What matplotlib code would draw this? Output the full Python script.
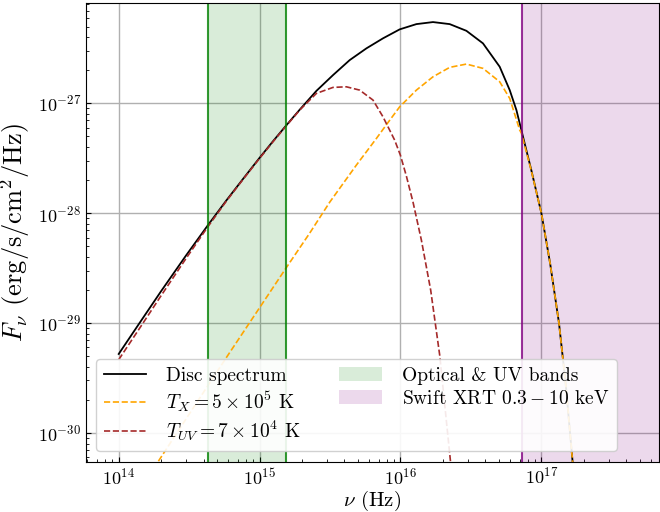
import matplotlib

matplotlib.use("Agg")
import matplotlib.pyplot as plt

# frequencies (Hz) and fluxes (erg/s/cm^2/Hz)
nu_disc = [1.0e14, 1.409e14, 2.0e14, 3.0e14, 4.3e14, 5.81e14, 7.59e14, 1.0e15,
           1.239e15, 1.556e15, 1.926e15, 2.53e15, 3.32e15, 4.36e15, 5.73e15,
           7.51e15, 9.87e15, 1.297e16, 1.701e16, 2.235e16, 2.936e16, 3.85e16,
           5.06e16, 5.96e16, 6.65e16, 7.21e16, 8.48e16, 1.0e17, 1.154e17,
           1.333e17, 1.486e17, 1.668e17, 1.81e17]
f_disc = [5.23e-30, 1.005e-29, 1.952e-29, 4.11e-29, 7.79e-29, 1.308e-28,
          2.035e-28, 3.196e-28, 4.49e-28, 6.37e-28, 8.76e-28, 1.30e-27,
          1.810e-27, 2.479e-27, 3.17e-27, 3.91e-27, 4.72e-27, 5.27e-27,
          5.50e-27, 5.27e-27, 4.58e-27, 3.52e-27, 2.155e-27, 1.321e-27,
          8.69e-28, 5.71e-28, 2.47e-28, 1.0e-28, 3.48e-29, 1.0e-29, 2.835e-30,
          5.35e-31, 1.977e-31]

nu_x = [1.0e14, 1.955e14, 3.76e14, 5.90e14, 1.0e15, 1.556e15, 2.268e15, 3.145e15,
        4.86e15, 6.75e15, 8.15e15, 9.87e15, 1.297e16, 1.701e16, 2.235e16,
        2.936e16, 3.85e16, 5.06e16, 5.96e16, 7.02e16, 7.21e16, 8.48e16, 1.0e17,
        1.154e17, 1.333e17, 1.486e17, 1.668e17, 1.81e17]
f_x = [1.54e-31, 5.76e-31, 2.078e-30, 5.0e-30, 1.38e-29, 3.23e-29, 6.59e-29,
       1.26e-28, 2.74e-28, 4.80e-28, 6.69e-28, 9.31e-28, 1.321e-27, 1.747e-27,
       2.128e-27, 2.28e-27, 2.084e-27, 1.573e-27, 1.110e-27, 5.71e-28, 5.36e-28,
       2.44e-28, 1.0e-28, 3.48e-29, 1.0e-29, 2.835e-30, 5.35e-31, 1.977e-31]

nu_uv = [1.0e14, 1.409e14, 2.0e14, 3.0e14, 4.3e14, 5.81e14, 7.59e14, 1.0e15,
         1.239e15, 1.556e15, 1.926e15, 2.53e15, 3.32e15, 4.13e15, 5.13e15,
         6.38e15, 7.51e15, 9.09e15, 9.98e15, 1.101e16, 1.227e16, 1.407e16,
         1.638e16, 1.898e16, 2.272e16, 2.465e16]
f_uv = [4.64e-30, 8.99e-30, 1.777e-29, 3.86e-29, 7.55e-29, 1.289e-28, 2.014e-28,
        3.16e-28, 4.44e-28, 6.30e-28, 8.69e-28, 1.233e-27, 1.398e-27, 1.416e-27,
        1.321e-27, 1.072e-27, 7.55e-28, 4.63e-28, 3.38e-28, 2.177e-28,
        1.262e-28, 5.69e-29, 1.993e-29, 5.10e-30, 5.24e-31, 2.20e-31]

optical_uv = (4.28e14, 1.55e15)
xrt = (7.25e16, 2.42e18)

plt.rcParams["font.family"] = "serif"
plt.rcParams["font.serif"] = ["cmr10", "DejaVu Serif"]
plt.rcParams["mathtext.fontset"] = "cm"
plt.rcParams["axes.formatter.use_mathtext"] = True
plt.rcParams["axes.unicode_minus"] = False


def main() -> None:
    fig, ax = plt.subplots(figsize=(6.6, 5.12), dpi=100)
    fig.subplots_adjust(left=0.130, right=0.998, top=0.995, bottom=0.098)

    ax.plot(nu_disc, f_disc, color="black", lw=1.3, label="Disc spectrum")
    ax.plot(nu_x, f_x, color="orange", lw=1.2, ls="--",
            label=r"$T_X = 5 \times 10^5$ K")
    ax.plot(nu_uv, f_uv, color="brown", lw=1.2, ls="--",
            label=r"$T_{UV} = 7 \times 10^4$ K")

    ax.axvspan(*optical_uv, color="green", alpha=0.15, lw=0,
               label="Optical & UV bands")
    for v in optical_uv:
        ax.axvline(v, color="green", lw=1.5, alpha=0.8)
    ax.axvspan(*xrt, color="purple", alpha=0.15, lw=0,
               label=r"Swift XRT $0.3-10$ keV")
    ax.axvline(xrt[0], color="purple", lw=1.5, alpha=0.8)

    ax.set_xscale("log")
    ax.set_yscale("log")
    ax.set_xlim(5.84e13, 6.8e17)
    ax.set_ylim(5.45e-31, 8.28e-27)
    ax.grid(True, which="major", color="#b0b0b0", lw=1.0)
    ax.set_axisbelow(True)
    ax.tick_params(which="both", direction="in", labelsize=13)

    ax.set_xlabel(r"$\nu$ (Hz)", fontsize=15, labelpad=1)
    ax.set_ylabel(r"$F_\nu$ (erg/s/cm$^2$/Hz)", fontsize=19)

    ax.legend(loc="lower left", ncol=2, fontsize=14, framealpha=0.9,
              bbox_to_anchor=(0.0175, 0.023), borderaxespad=0,
              labelspacing=0.25, handlelength=2.2, handletextpad=1.0,
              columnspacing=2.0)

    fig.savefig("out.png", dpi=100)


if __name__ == "__main__":
    main()
